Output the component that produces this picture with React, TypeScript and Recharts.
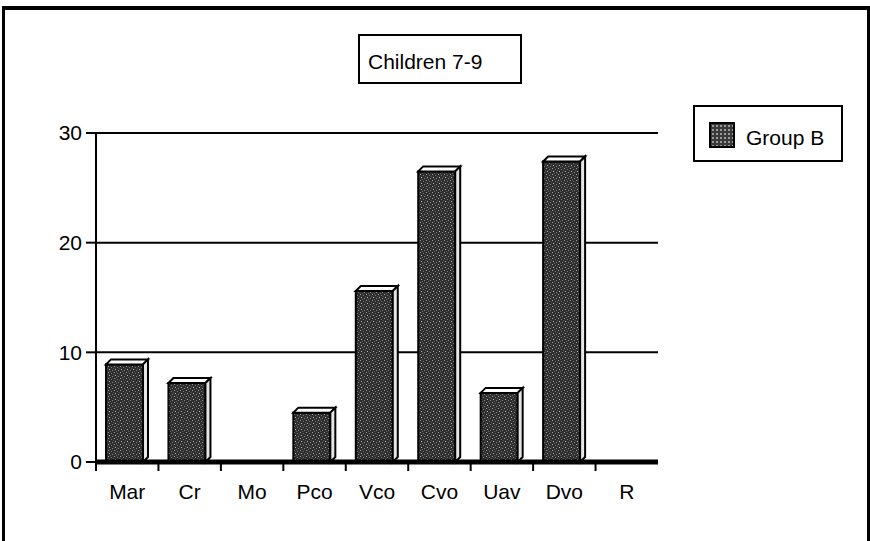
import { BarChart, Bar, XAxis, YAxis, CartesianGrid, Legend } from "recharts";

const categories = ["Mar", "Cr", "Mo", "Pco", "Vco", "Cvo", "Uav", "Dvo", "R"];
const groupB = [8.9, 7.2, 0, 4.5, 15.6, 26.5, 6.3, 27.4, 0];
const yTicks = [0, 10, 20, 30];

const data = categories.map((name, i) => ({ name, groupB: groupB[i] }));

const font = "'Liberation Sans', Arial, sans-serif";

// 3D-ish bar: front face, top face, right side
function Bar3D(props: any) {
  const { x, y, width, height } = props;
  if (!height || height <= 0) return <g />;
  const d = 5;
  const fw = width - d;
  return (
    <g>
      <rect
        x={x}
        y={y}
        width={fw}
        height={height}
        fill="url(#stipple)"
        stroke="#000"
        strokeWidth={2}
      />
      <polygon
        points={`${x},${y} ${x + d},${y - d} ${x + fw + d},${y - d} ${x + fw},${y}`}
        fill="#fff"
        stroke="#000"
        strokeWidth={2}
      />
      <polygon
        points={`${x + fw},${y} ${x + fw + d},${y - d} ${x + fw + d},${y + height - d} ${x + fw},${y + height}`}
        fill="#e6e6e6"
        stroke="#000"
        strokeWidth={2}
      />
    </g>
  );
}

function CategoryTick(props: any) {
  const { x, y, payload } = props;
  const off = payload.offset || 0;
  return (
    <g>
      <line x1={x - off} y1={y - 2} x2={x - off} y2={y + 7} stroke="#000" strokeWidth={2} />
      <text
        x={x}
        y={y + 35}
        textAnchor="middle"
        fontSize={21}
        fontFamily={font}
        fill="#000"
      >
        {payload.value}
      </text>
    </g>
  );
}

function LegendBox() {
  return (
    <div
      style={{
        width: 146,
        height: 53,
        border: "2px solid #000",
        background: "#fff",
        display: "flex",
        alignItems: "center",
        boxSizing: "content-box",
      }}
    >
      <div
        style={{
          width: 22,
          height: 22,
          marginLeft: 14,
          marginTop: 2,
          border: "2px solid #000",
          background:
            "radial-gradient(circle, #9a9a9a 1px, transparent 1.5px) 0 0 / 4px 4px, #3a3a3a",
        }}
      />
      <span
        style={{
          marginLeft: 11,
          marginTop: 8,
          fontSize: 21,
          fontFamily: font,
          color: "#000",
        }}
      >
        Group B
      </span>
    </div>
  );
}

export default function App() {
  return (
    <div
      style={{
        position: "absolute",
        left: 0,
        top: 0,
        width: 870,
        height: 541,
        background: "#fff",
        overflow: "hidden",
      }}
    >
      {/* outer frame */}
      <div
        style={{
          position: "absolute",
          left: 2,
          top: 6,
          width: 862,
          height: 532,
          borderTop: "4px solid #000",
          borderLeft: "3px solid #000",
          borderRight: "3px solid #000",
          borderBottom: "2px solid #555",
        }}
      />
      {/* title box */}
      <div
        style={{
          position: "absolute",
          left: 358,
          top: 34,
          width: 160,
          height: 46,
          border: "2px solid #000",
          background: "#fff",
          fontFamily: font,
          fontSize: 21,
          lineHeight: "52px",
          textIndent: 8,
          color: "#000",
          overflow: "hidden",
        }}
      >
        Children 7-9
      </div>
      <div style={{ position: "absolute", left: 0, top: 0 }}>
        <BarChart
          width={870}
          height={541}
          data={data}
          margin={{ top: 133, right: 212, bottom: 0, left: 0 }}
        >
          <defs>
            <pattern id="stipple" width="6" height="6" patternUnits="userSpaceOnUse">
              <rect width="6" height="6" fill="#2e2e2e" />
              <rect x="0" y="0" width="1" height="1" fill="#a0a0a0" />
              <rect x="3" y="1" width="1" height="1" fill="#7a7a7a" />
              <rect x="1" y="3" width="1" height="1" fill="#bdbdbd" />
              <rect x="4" y="4" width="1" height="1" fill="#8c8c8c" />
              <rect x="5" y="2" width="1" height="1" fill="#555" />
              <rect x="2" y="5" width="1" height="1" fill="#666" />
            </pattern>
          </defs>
          <CartesianGrid vertical={false} stroke="#000" strokeWidth={2} />
          <XAxis
            dataKey="name"
            height={79}
            axisLine={{ stroke: "#000", strokeWidth: 5 }}
            tickLine={false}
            tickSize={0}
            tickMargin={2}
            tick={<CategoryTick />}
            interval={0}
          />
          <YAxis
            width={96}
            domain={[0, 30]}
            ticks={yTicks}
            axisLine={{ stroke: "#000", strokeWidth: 2 }}
            tickLine={{ stroke: "#000", strokeWidth: 2 }}
            tickSize={10}
            tickMargin={4}
            tick={{ fill: "#000", fontSize: 21, fontFamily: font }}
          />
          <Legend
            layout="vertical"
            verticalAlign="middle"
            align="center"
            wrapperStyle={{ left: 693, top: 105, width: 150, height: 57 }}
            content={() => <LegendBox />}
          />
          <Bar
            dataKey="groupB"
            name="Group B"
            barSize={42}
            shape={<Bar3D />}
            isAnimationActive={false}
          />
        </BarChart>
      </div>
    </div>
  );
}
